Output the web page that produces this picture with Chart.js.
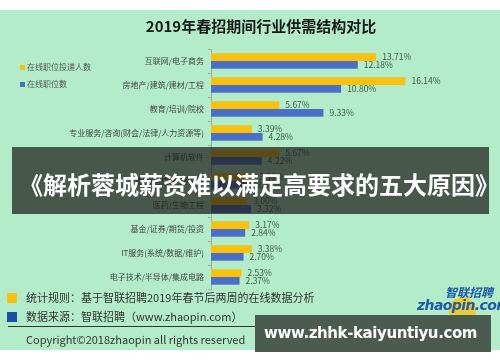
<!DOCTYPE html>
<html lang="zh">
<head>
<meta charset="UTF-8">
<title>2019年春招期间行业供需结构对比</title>
<style>
  body { margin: 0; width: 500px; height: 362px; overflow: hidden; background: #fff; font-family: "Noto Sans CJK SC", sans-serif; }
  .stage { position: absolute; left: 0; top: 10px; width: 500px; height: 340px; background: #b2ecc9; }
  #chart { position: absolute; left: 0; top: 0; }
  .title { position: absolute; left: 0; width: 522px; top: 15px; text-align: center; font-size: 15px; font-weight: bold; color: #1a1a1a; }
  .leg { position: absolute; left: 20px; font-size: 8px; color: #555; white-space: nowrap; }
  .leg i { display: inline-block; width: 5px; height: 5px; margin-right: 2px; vertical-align: middle; }
  .banner { position: absolute; left: 12px; top: 147px; width: 477px; height: 67px; background: rgba(31, 29, 27, 0.72); }
  .banner-text { position: absolute; left: 19px; top: 166px; font-size: 24px; font-weight: bold; color: #fff; white-space: nowrap; letter-spacing: 0px; }
  .foot { position: absolute; left: 26px; font-size: 11px; color: #333; white-space: nowrap; }
  .sq { position: absolute; left: 7px; width: 10px; height: 10px; }
  .rule { position: absolute; left: 8px; top: 326px; width: 482px; height: 1px; background: #333; }
  .logo1 { position: absolute; left: 445px; top: 283px; font-size: 12px; font-weight: bold; font-style: italic; color: #1f5aa8; white-space: nowrap; }
  .logo2 { position: absolute; left: 417px; top: 297px; font-size: 14px; font-weight: bold; font-style: italic; color: #1f5aa8; font-family: "DejaVu Sans", sans-serif; letter-spacing: -0.6px; white-space: nowrap; }
  .logo-dot { position: absolute; left: 449px; top: 297px; width: 27px; height: 27px; border-radius: 50%; background: #f7c61a; opacity: 0.85; }
  .wm { position: absolute; left: 255px; top: 315px; width: 236px; height: 37px; background: #4b5b4f; }
  .wm-text { position: absolute; left: 264px; top: 324px; font-size: 15px; font-weight: bold; color: #fff; font-family: "DejaVu Sans", sans-serif; letter-spacing: -0.4px; white-space: nowrap; }
</style>
</head>
<body>
<div class="stage"></div>
<canvas id="chart" width="500" height="362"></canvas>
<div class="title">2019年春招期间行业供需结构对比</div>
<div class="leg" style="top:61px"><i style="background:#f8c00f"></i>在线职位投递人数</div>
<div class="leg" style="top:78px"><i style="background:#4a6fc6"></i>在线职位数</div>
<div class="banner"></div>
<div class="banner-text">《解析蓉城薪资难以满足高要求的五大原因》</div>
<div class="sq" style="top:293px;background:#f8c00f"></div>
<div class="foot" style="top:289px">统计规则：基于智联招聘2019年春节后两周的在线数据分析</div>
<div class="sq" style="top:312px;background:#1d4fa0"></div>
<div class="foot" style="top:308px">数据来源：智联招聘（www.zhaopin.com）</div>
<div class="rule"></div>
<div class="foot" style="top:331px">Copyright©2018zhaopin all rights reserved</div>
<div class="logo-dot"></div>
<div class="logo1">智联招聘</div>
<div class="logo2">zhaopin.com</div>
<div class="wm"></div>
<div class="wm-text">www.zhhk-kaiyuntiyu.com</div>

<script src="https://cdn.jsdelivr.net/npm/chart.js@4.4.1/dist/chart.umd.js"></script>
<script>
const categories = [
  '互联网/电子商务',
  '房地产/建筑/建材/工程',
  '教育/培训/院校',
  '专业服务/咨询(财会/法律/人力资源等)',
  '计算机软件',
  '通信/电信/网络设备',
  '医药/生物工程',
  '基金/证券/期货/投资',
  'IT服务(系统/数据/维护)',
  '电子技术/半导体/集成电路'
];
const applicants = [13.71, 16.14, 5.67, 3.39, 5.67, 3.50, 3.00, 3.17, 3.38, 2.53];
const positions = [12.18, 10.80, 9.33, 4.28, 4.22, 3.30, 3.32, 2.84, 2.70, 2.37];
const seriesNames = ['在线职位投递人数', '在线职位数'];

// draw the percentage next to each bar end
const valueLabels = {
  id: 'valueLabels',
  afterDatasetsDraw(chart) {
    const ctx = chart.ctx;
    ctx.save();
    ctx.font = '8.5px "Noto Sans CJK SC", sans-serif';
    ctx.fillStyle = '#3d5a47';
    ctx.textBaseline = 'middle';
    chart.data.datasets.forEach((ds, i) => {
      chart.getDatasetMeta(i).data.forEach((bar, j) => {
        ctx.fillText(ds.data[j].toFixed(2) + '%', bar.x + 6, bar.y);
      });
    });
    ctx.restore();
  }
};

new Chart(document.getElementById('chart'), {
  type: 'bar',
  data: {
    labels: categories,
    datasets: [
      { label: seriesNames[0], data: applicants, backgroundColor: '#f8c00f' },
      { label: seriesNames[1], data: positions, backgroundColor: '#4a6fc6' }
    ]
  },
  options: {
    indexAxis: 'y',
    responsive: false,
    animation: false,
    layout: { padding: { left: 0, top: 49, right: 48, bottom: 73 } },
    datasets: { bar: { categoryPercentage: 0.64, barPercentage: 1 } },
    plugins: { legend: { display: false }, tooltip: { enabled: false } },
    scales: {
      x: { display: false, min: 0, max: 20 },
      y: {
        afterFit(s) { s.width = 211; },
        border: { color: '#a0a8a2', width: 1 },
        grid: { drawOnChartArea: false, tickLength: 3, color: '#a0a8a2' },
        ticks: { padding: 4, color: '#444', font: { size: 8, family: '"Noto Sans CJK SC", sans-serif' } }
      }
    }
  },
  plugins: [valueLabels]
});
</script>
</body>
</html>
